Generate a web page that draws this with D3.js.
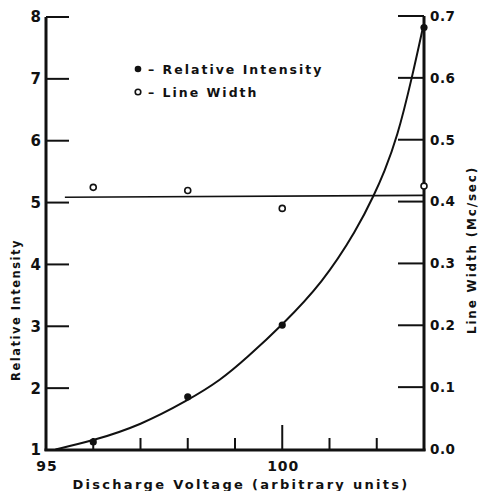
<!DOCTYPE html>
<html><head><meta charset="utf-8">
<script src="https://cdn.jsdelivr.net/npm/d3@7"></script>
<style>
html,body{margin:0;padding:0;background:#fff;}
svg{display:block;}
text{font-family:"DejaVu Sans",sans-serif;font-weight:bold;fill:#111;}
</style></head>
<body>
<script>
// ---- data ----
const xTicks = [95, 96, 97, 98, 99, 100, 101, 102];
const xTickLabels = ["95", "", "", "", "", "100", "", ""];
const leftTicks = [1, 2, 3, 4, 5, 6, 7, 8];
const rightTicks = [0.0, 0.1, 0.2, 0.3, 0.4, 0.5, 0.6, 0.7];
const intensityX = [96, 98, 100, 103];
const intensityY = [1.13, 1.86, 3.02, 7.83];
const widthX = [96, 98, 100, 103];
const widthY = [0.423, 0.418, 0.389, 0.425];
const widthLineX = [95.4, 103];
const widthLineY = [0.407, 0.410];
const curveX = [95.2, 96, 97, 98, 98.7, 99.25, 100, 100.85, 101.58, 101.96, 102.15, 102.43, 102.75, 102.98];
const curveY = [1.01, 1.15, 1.40, 1.80, 2.13, 2.49, 3.02, 3.70, 4.56, 5.15, 5.48, 6.04, 7.03, 7.84];

const W = 480, H = 491;
const svg = d3.select("body").append("svg").attr("width", W).attr("height", H);

const x = d3.scaleLinear().domain([95, 103]).range([46, 424]);
const yL = d3.scaleLinear().domain([1, 8]).range([450, 17]);
const yR = d3.scaleLinear().domain([0, 0.7]).range([449, 16]);

const ink = "#111";

// axes lines
const x0 = x(95), x1 = x(103), yb = yL(1);
svg.append("line").attr("x1", x0).attr("x2", x0).attr("y1", yL(8)).attr("y2", yb + 1)
  .attr("stroke", ink).attr("stroke-width", 3);
svg.append("line").attr("x1", x1).attr("x2", x1).attr("y1", yR(0.7)).attr("y2", yb + 1)
  .attr("stroke", ink).attr("stroke-width", 3);
svg.append("line").attr("x1", x0 - 1.5).attr("x2", x1 + 1.5).attr("y1", yb).attr("y2", yb)
  .attr("stroke", ink).attr("stroke-width", 3);

// left ticks (inward)
const gL = svg.append("g");
gL.selectAll("line").data(leftTicks.slice(1)).join("line")
  .attr("x1", x0).attr("x2", x0 + 23).attr("y1", d => yL(d)).attr("y2", d => yL(d))
  .attr("stroke", ink).attr("stroke-width", 2);
gL.selectAll("text").data(leftTicks).join("text")
  .attr("x", x0 - 5).attr("y", d => yL(d)).attr("dy", "0.36em")
  .attr("text-anchor", "end").attr("font-size", 15).text(d => d);

// right ticks (inward)
const gR = svg.append("g");
gR.selectAll("line").data(rightTicks.slice(1)).join("line")
  .attr("x1", x1).attr("x2", x1 - 26).attr("y1", d => yR(d)).attr("y2", d => yR(d))
  .attr("stroke", ink).attr("stroke-width", 2);
gR.selectAll("text").data(rightTicks).join("text")
  .attr("x", x1 + 6).attr("y", d => yR(d)).attr("dy", "0.36em")
  .attr("text-anchor", "start").attr("font-size", 13.5).attr("letter-spacing", 0.5)
  .text(d => d3.format(".1f")(d));

// bottom ticks (inward, up)
const gB = svg.append("g");
gB.selectAll("line").data(xTicks.slice(1)).join("line")
  .attr("x1", d => x(d)).attr("x2", d => x(d))
  .attr("y1", yb).attr("y2", d => d === 100 ? yb - 25 : yb - 12)
  .attr("stroke", ink).attr("stroke-width", 2);
gB.selectAll("text").data(xTicks.map((d, i) => ({v: d, l: xTickLabels[i]})).filter(d => d.l)).join("text")
  .attr("x", d => x(d.v) + 1).attr("y", 471)
  .attr("text-anchor", "middle").attr("font-size", 14).attr("letter-spacing", 1).text(d => d.l);

// horizontal line width fit
const lineR = d3.line().x(d => x(d[0])).y(d => yR(d[1]));
svg.append("path").datum(widthLineX.map((v, i) => [v, widthLineY[i]]))
  .attr("d", lineR).attr("fill", "none").attr("stroke", ink).attr("stroke-width", 1.6);

// intensity curve
const lineL = d3.line().x(d => x(d[0])).y(d => yL(d[1])).curve(d3.curveBasis);
svg.append("path").datum(curveX.map((v, i) => [v, curveY[i]]))
  .attr("d", lineL).attr("fill", "none").attr("stroke", ink).attr("stroke-width", 2);

// points
svg.append("g").selectAll("circle").data(intensityX.map((v, i) => [v, intensityY[i]])).join("circle")
  .attr("cx", d => x(d[0])).attr("cy", d => yL(d[1])).attr("r", 3.6).attr("fill", ink);
svg.append("g").selectAll("circle").data(widthX.map((v, i) => [v, widthY[i]])).join("circle")
  .attr("cx", d => x(d[0])).attr("cy", d => yR(d[1])).attr("r", 3).attr("fill", "#fff")
  .attr("stroke", ink).attr("stroke-width", 1.6);

// legend
const leg = svg.append("g");
leg.append("circle").attr("cx", 138).attr("cy", 69).attr("r", 3.3).attr("fill", ink);
leg.append("circle").attr("cx", 138).attr("cy", 92).attr("r", 2.8).attr("fill", "#fff").attr("stroke", ink).attr("stroke-width", 1.6);
leg.append("text").attr("x", 148).attr("y", 74).attr("font-size", 12.5).attr("letter-spacing", 2).text("– Relative Intensity");
leg.append("text").attr("x", 148).attr("y", 97).attr("font-size", 12.5).attr("letter-spacing", 2).text("– Line Width");

// axis titles
svg.append("text").attr("x", 241).attr("y", 489).attr("text-anchor", "middle")
  .attr("font-size", 13).attr("letter-spacing", 2.3).text("Discharge Voltage (arbitrary units)");
svg.append("text").attr("transform", "translate(20,310) rotate(-90)").attr("text-anchor", "middle")
  .attr("font-size", 11.5).attr("letter-spacing", 1.5).text("Relative Intensity");
svg.append("text").attr("transform", "translate(476,250) rotate(-90)").attr("text-anchor", "middle")
  .attr("font-size", 12).attr("letter-spacing", 1.8).text("Line Width (Mc/sec)");
</script>
</body></html>
